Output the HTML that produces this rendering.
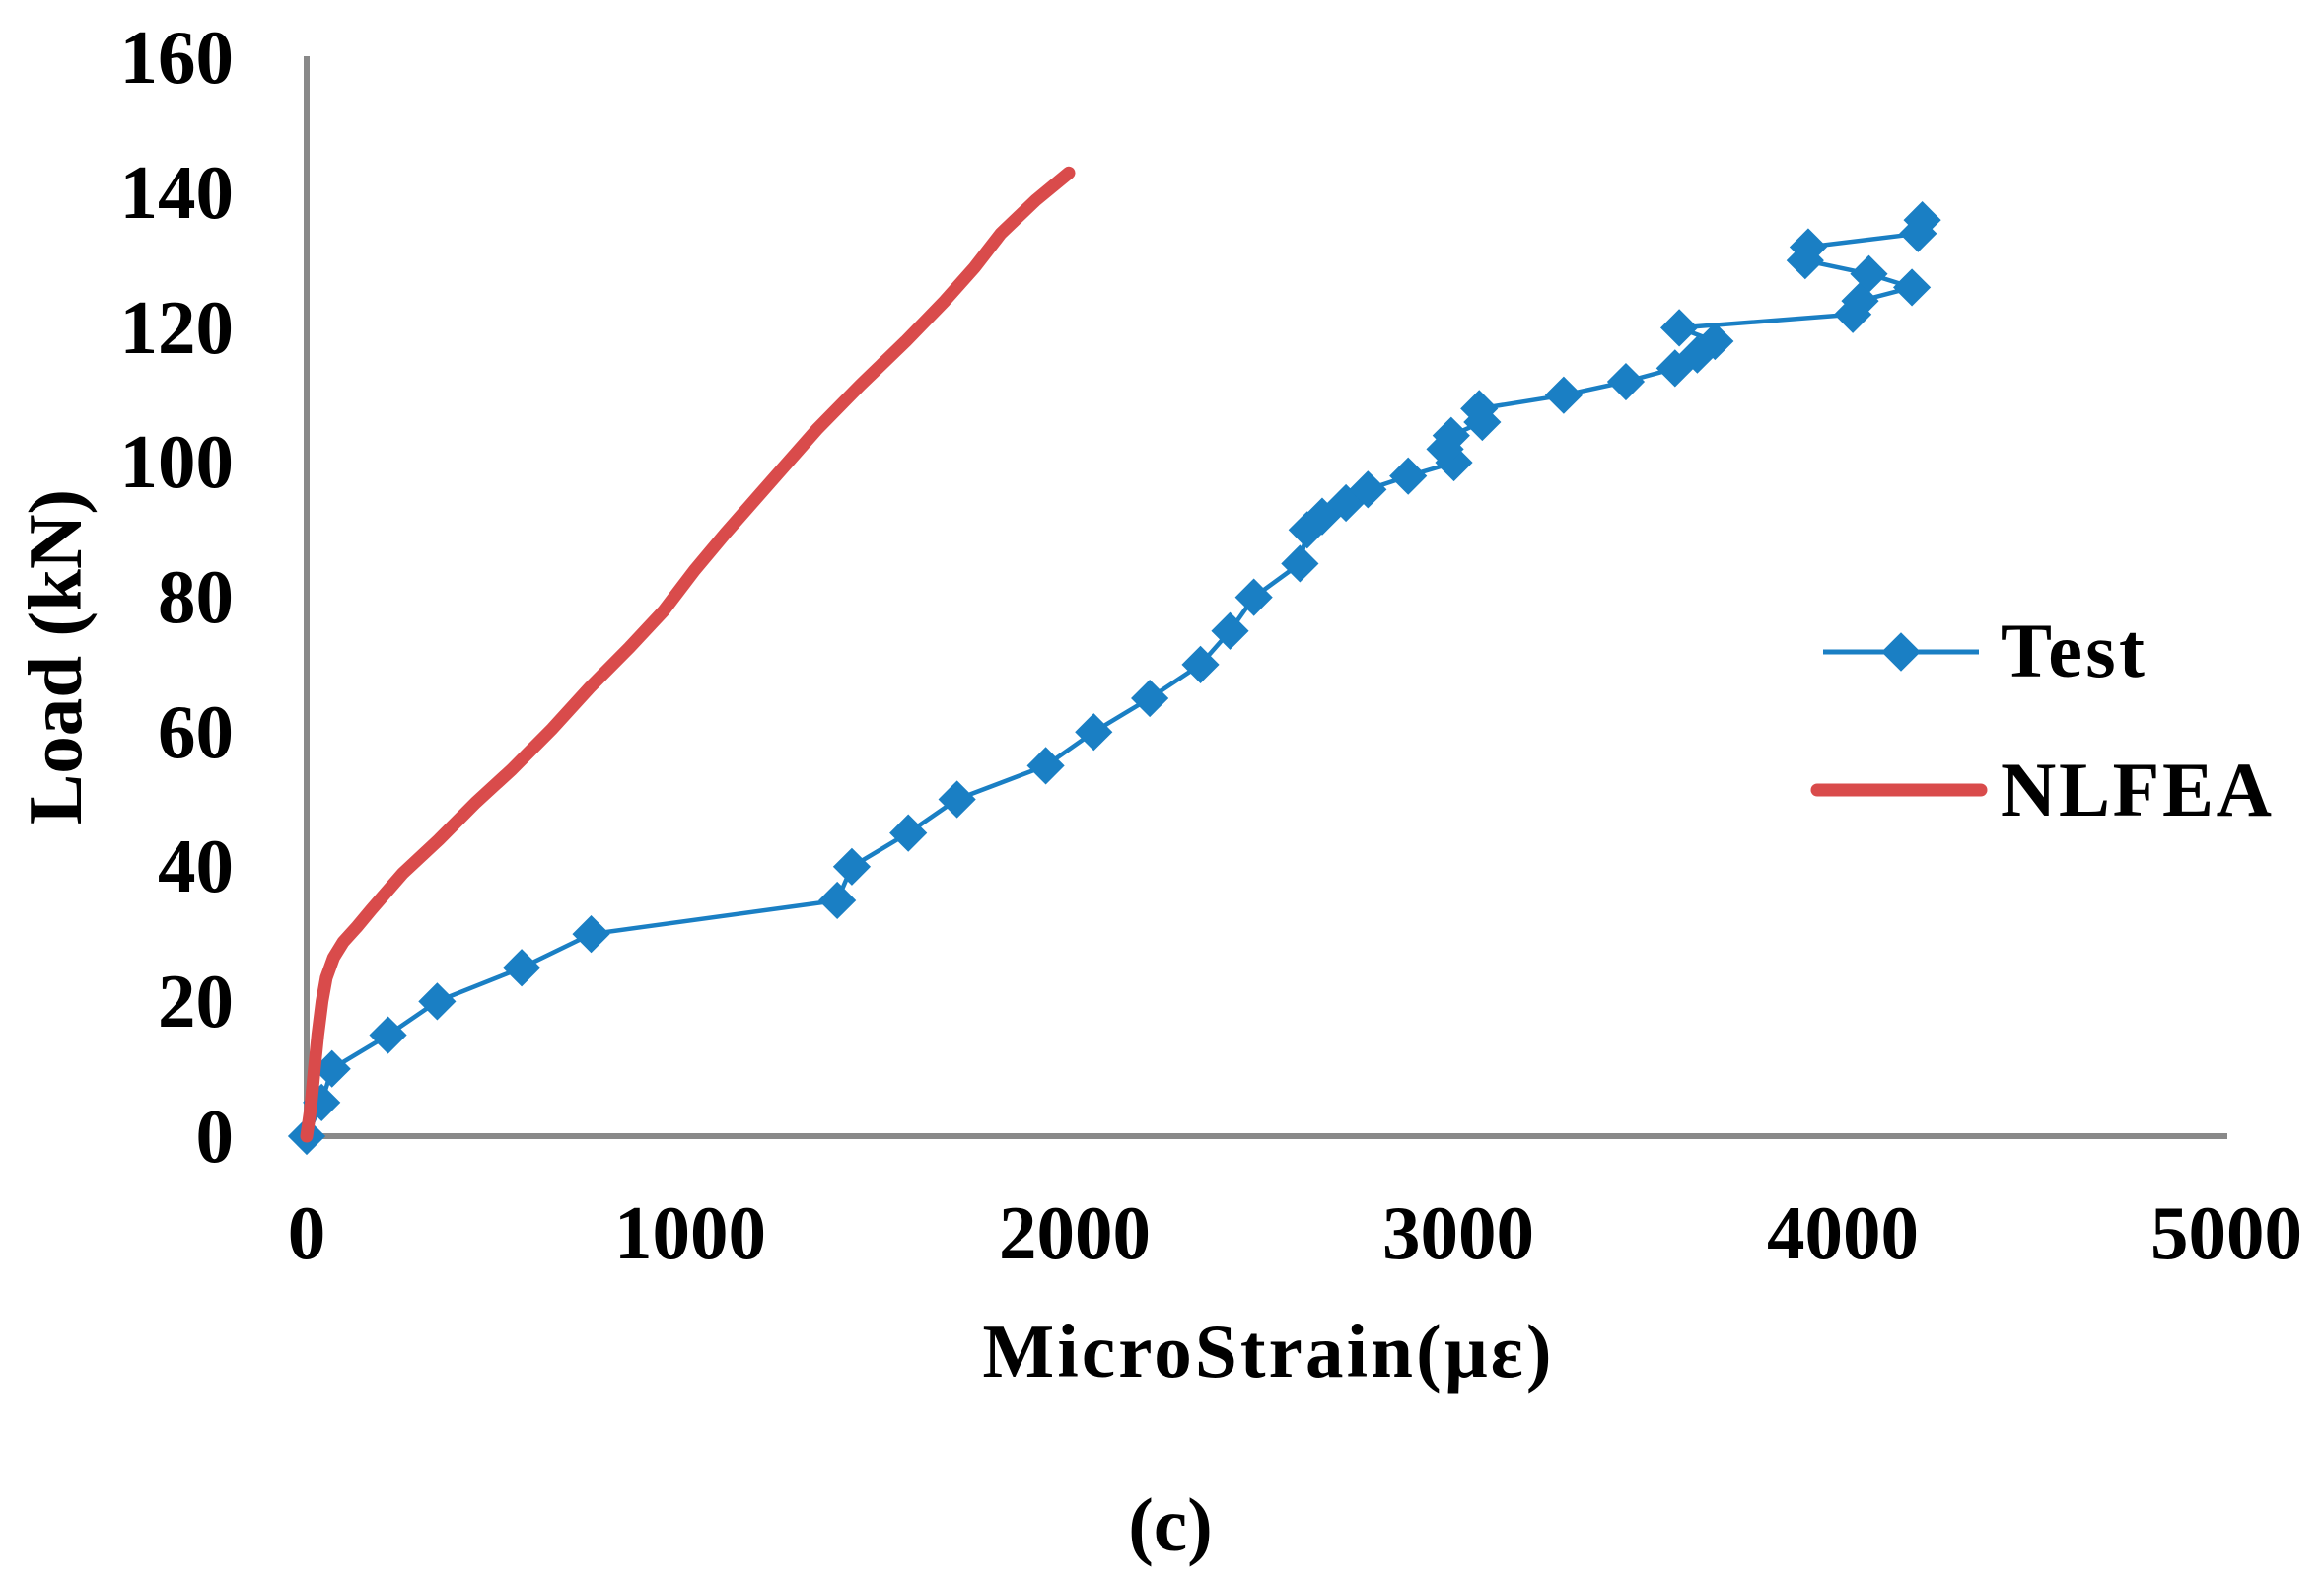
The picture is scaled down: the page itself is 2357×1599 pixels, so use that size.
<!DOCTYPE html>
<html><head><meta charset="utf-8"><style>
html,body{margin:0;padding:0;background:#fff;}
svg{display:block;}
text{font-family:"Liberation Serif",serif;font-weight:bold;fill:#000;}
</style></head><body>
<svg id="s" width="2357" height="1599" viewBox="0 0 2357 1599" xmlns="http://www.w3.org/2000/svg">
<line x1="311" y1="57" x2="311" y2="1152" stroke="#898989" stroke-width="6"/>
<line x1="308" y1="1152" x2="2259" y2="1152" stroke="#898989" stroke-width="6"/>
<g font-size="77" text-anchor="end">
<text x="237" y="1178">0</text>
<text x="237" y="1041">20</text>
<text x="237" y="904">40</text>
<text x="237" y="768">60</text>
<text x="237" y="631">80</text>
<text x="237" y="494">100</text>
<text x="237" y="358">120</text>
<text x="237" y="221">140</text>
<text x="237" y="84">160</text>
</g>
<g font-size="77" text-anchor="middle">
<text x="311" y="1276">0</text>
<text x="700" y="1276">1000</text>
<text x="1090" y="1276">2000</text>
<text x="1479" y="1276">3000</text>
<text x="1869" y="1276">4000</text>
<text x="2258" y="1276">5000</text>
</g>
<text x="1285" y="1396" font-size="77" text-anchor="middle" textLength="577">MicroStrain(με)</text>
<text transform="translate(82,666) rotate(-90)" font-size="77" text-anchor="middle">Load (kN)</text>
<text x="1187" y="1572" font-size="77" text-anchor="middle">(c)</text>
<g id="plot"></g>
<line x1="1849" y1="661" x2="2007" y2="661" stroke="#1a7fc4" stroke-width="5"/>
<rect x="1914" y="647" width="28" height="28" fill="#1a7fc4" transform="rotate(45 1928 661)"/>
<text x="2029" y="686" font-size="78" textLength="146">Test</text>
<line x1="1843" y1="801" x2="2009" y2="801" stroke="#d94b4b" stroke-width="13" stroke-linecap="round"/>
<text x="2029" y="827" font-size="78" textLength="275">NLFEA</text>
</svg>
<script>
var X=function(v){return 311+v*0.3894;},Y=function(k){return 1152-k*6.83;};
var t=[[0,0],[39,5],[66,10],[212,15],[340,20],[560,25],[741,30],[1382,35],[1420,40],[1567,45],[1694,50],[1925,55],[2050,60],[2196,65],[2328,70],[2405,75],[2467,80],[2587,85],[2606,90],[2645,92],[2707,94],[2764,96],[2869,98],[2988,100],[2965,102],[2981,104],[3062,106],[3054,108],[3274,110],[3436,112],[3564,114],[3622,116],[3668,118],[3575,120],[4027,122],[4046,124],[4181,126],[4069,128],[3903,130],[3911,132],[4197,134],[4208,136]];
var r=[[0,0],[10,4],[20,10],[29,15],[40,20],[51,23.5],[70,26.5],[95,28.8],[130,31],[168,33.6],[250,39],[344,44],[440,49.5],[534,54.4],[640,60.5],[739,66.7],[840,72.5],[930,78],[1010,84],[1091,89.5],[1222,98],[1330,105],[1442,111.5],[1560,118],[1662,124],[1740,129],[1808,134],[1900,139],[1985,143]];
var g=document.getElementById('plot'),h='';
h+='<polyline fill="none" stroke="#1a7fc4" stroke-width="4.5" stroke-linejoin="round" points="'+t.map(function(p){return X(p[0]).toFixed(1)+','+Y(p[1]).toFixed(1);}).join(' ')+'"/>';
t.forEach(function(p){var x=X(p[0]),y=Y(p[1]);h+='<rect x="'+(x-13.5)+'" y="'+(y-13.5)+'" width="27" height="27" fill="#1a7fc4" transform="rotate(45 '+x+' '+y+')"/>';});
h+='<polyline fill="none" stroke="#d94b4b" stroke-width="13" stroke-linecap="round" stroke-linejoin="round" points="'+r.map(function(p){return X(p[0]).toFixed(1)+','+Y(p[1]).toFixed(1);}).join(' ')+'"/>';
g.innerHTML=h;
</script>
</body></html>
